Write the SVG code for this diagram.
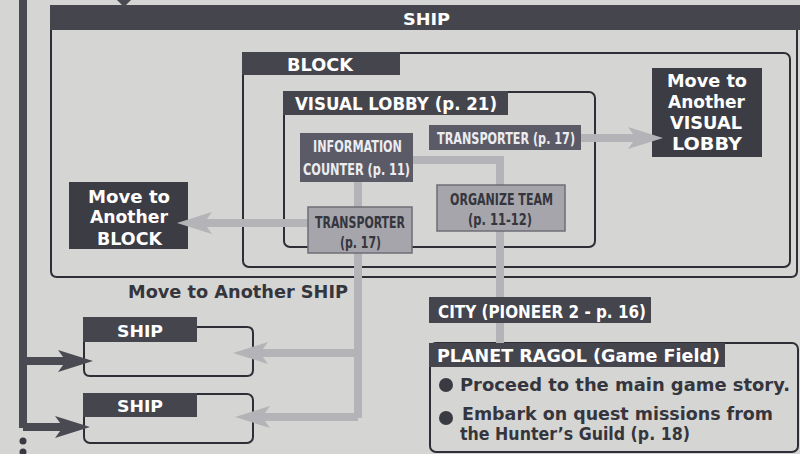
<svg xmlns="http://www.w3.org/2000/svg" width="800" height="454" viewBox="0 0 800 454" xmlns:xlink="http://www.w3.org/1999/xlink">
<defs>
<style>
.bg{fill:#d5d5d3}
.frame{fill:none;stroke:#2e2e36;stroke-width:2}
.hdr{fill:#45454d}
.mv{fill:#3c3c44}
.med{fill:#5b5b67}
.lt{fill:#a5a5ab;stroke:#6e6e76;stroke-width:1.5}
.conn{fill:none;stroke:#b3b3b8;stroke-width:8}
.connd{fill:none;stroke:#4a4a52;stroke-width:8}
.ahl{fill:#b3b3b8}
.ahd{fill:#4a4a52}
.tb{font-family:"DejaVu Sans","Liberation Sans",sans-serif;font-weight:bold;fill:#ffffff}
.tc{font-family:"DejaVu Sans Condensed","DejaVu Sans","Liberation Sans",sans-serif;font-stretch:condensed;font-weight:bold}
.w{fill:#ffffff}
.lw{fill:#ececf0}
.dk{fill:#35353d}
</style>
<path id="ah" d="M0,0 L-35,-11 L-27,0 L-35,11 Z"/>
</defs>
<rect class="bg" x="0" y="0" width="800" height="454"/>

<g id="ship-main">
<path class="frame" d="M51,20 V271 Q51,277 57,277 H791 Q797,277 797,271 V20"/>
<rect class="hdr" x="50" y="5" width="750" height="25"/>
<text class="tb" x="403" y="25" font-size="16" textLength="47" lengthAdjust="spacingAndGlyphs">SHIP</text>
</g>

<g id="block">
<rect class="frame" x="243" y="53" width="547" height="214" rx="6"/>
<rect class="hdr" x="242" y="52" width="158" height="23"/>
<text class="tb" x="287" y="71" font-size="18" textLength="66" lengthAdjust="spacingAndGlyphs">BLOCK</text>
</g>

<g id="visual-lobby">
<rect class="frame" x="284" y="92" width="311" height="155" rx="6"/>
<rect class="hdr" x="283" y="91" width="225" height="24"/>
<text class="tb" x="295" y="110" font-size="18" textLength="202" lengthAdjust="spacingAndGlyphs">VISUAL LOBBY (p. 21)</text>
</g>

<g id="ship-1">
<path class="frame" d="M196,327 H247 Q253,327 253,333 V370 Q253,376 247,376 H90 Q84,376 84,370 V340"/>
<rect class="hdr" x="83" y="317" width="114" height="25"/>
<text class="tb" x="117" y="337" font-size="16" textLength="46" lengthAdjust="spacingAndGlyphs">SHIP</text>
</g>

<g id="ship-2">
<rect class="frame" x="84" y="394" width="169" height="49" rx="6"/>
<rect class="hdr" x="83" y="393" width="114" height="24"/>
<text class="tb" x="117" y="412" font-size="16" textLength="46" lengthAdjust="spacingAndGlyphs">SHIP</text>
</g>

<g id="planet-ragol">
<rect class="frame" x="430" y="343" width="368" height="109" rx="6"/>
<rect class="hdr" x="429" y="343" width="296" height="24"/>
<text class="tb" x="437" y="362" font-size="17" textLength="283" lengthAdjust="spacingAndGlyphs">PLANET RAGOL (Game Field)</text>
<circle cx="446" cy="385" r="7" fill="#3a3a42"/>
<circle cx="446" cy="418" r="7" fill="#3a3a42"/>
<text class="tb dk" x="460" y="391" font-size="18" textLength="330" lengthAdjust="spacingAndGlyphs">Proceed to the main game story.</text>
<text class="tb dk" x="462" y="420" font-size="18" textLength="311" lengthAdjust="spacingAndGlyphs">Embark on quest missions from</text>
<text class="tb dk" x="460" y="440" font-size="18" textLength="230" lengthAdjust="spacingAndGlyphs">the Hunter’s Guild (p. 18)</text>
</g>

<g id="connectors">
<path class="connd" d="M23,0 V428"/>
<path class="connd" d="M23,361 H70"/>
<path class="connd" d="M23,427 H68"/>
<use xlink:href="#ah" class="ahd" transform="translate(93,361)"/>
<use xlink:href="#ah" class="ahd" transform="translate(90,427)"/>
<polygon class="ahd" points="117,0 131,0 124,7"/>
<circle cx="23" cy="441" r="3.5" fill="#3a3a42"/>
<circle cx="23" cy="452" r="3.5" fill="#3a3a42"/>

<path class="conn" d="M358,182 V418"/>
<path class="conn" d="M358,353 H255"/>
<path class="conn" d="M358,417 H255"/>
<use xlink:href="#ah" class="ahl" transform="translate(233,353) rotate(180)"/>
<use xlink:href="#ah" class="ahl" transform="translate(235,417) rotate(180)"/>
<path class="conn" d="M413,160 H500 V343"/>
<path class="conn" d="M308,223 H200"/>
<path class="conn" d="M580,138 H640"/>
</g>

<g id="move-visual-lobby">
<rect class="mv" x="652" y="68" width="110" height="89"/>
<text class="tb" x="667" y="87" font-size="18" textLength="80" lengthAdjust="spacingAndGlyphs">Move to</text>
<text class="tb" x="668" y="108" font-size="18" textLength="77" lengthAdjust="spacingAndGlyphs">Another</text>
<text class="tb" x="670" y="129" font-size="18" textLength="72" lengthAdjust="spacingAndGlyphs">VISUAL</text>
<text class="tb" x="672" y="150" font-size="18" textLength="70" lengthAdjust="spacingAndGlyphs">LOBBY</text>
</g>

<g id="move-block">
<rect class="mv" x="69" y="182" width="119" height="67"/>
<text class="tb" x="88" y="203" font-size="18" textLength="82" lengthAdjust="spacingAndGlyphs">Move to</text>
<text class="tb" x="90" y="223" font-size="18" textLength="78" lengthAdjust="spacingAndGlyphs">Another</text>
<text class="tb" x="97" y="245" font-size="18" textLength="65" lengthAdjust="spacingAndGlyphs">BLOCK</text>
</g>

<g id="arrowheads-over">
<use xlink:href="#ah" class="ahl" transform="translate(663,138)"/>
<use xlink:href="#ah" class="ahl" transform="translate(177,223) rotate(180)"/>
</g>

<g id="move-ship-label">
<text class="tb dk" x="128" y="298" font-size="18" textLength="220" lengthAdjust="spacingAndGlyphs">Move to Another SHIP</text>
</g>

<g id="info-counter">
<rect class="med" x="300" y="133" width="113" height="49"/>
<text class="tc lw" x="313" y="152" font-size="16" textLength="89" lengthAdjust="spacingAndGlyphs">INFORMATION</text>
<text class="tc lw" x="303" y="175" font-size="16" textLength="107" lengthAdjust="spacingAndGlyphs">COUNTER (p. 11)</text>
</g>

<g id="transporter-top">
<rect class="med" x="429" y="125" width="152" height="25"/>
<text class="tc lw" x="437" y="144" font-size="16" textLength="138" lengthAdjust="spacingAndGlyphs">TRANSPORTER (p. 17)</text>
</g>

<g id="organize-team">
<rect class="lt" x="437" y="185" width="128" height="46"/>
<text class="tc dk" x="450" y="205" font-size="16" textLength="103" lengthAdjust="spacingAndGlyphs">ORGANIZE TEAM</text>
<text class="tc dk" x="468" y="225" font-size="16" textLength="64" lengthAdjust="spacingAndGlyphs">(p. 11-12)</text>
</g>

<g id="transporter-low">
<rect class="lt" x="308" y="207" width="104" height="46"/>
<text class="tc dk" x="315" y="228" font-size="16" textLength="90" lengthAdjust="spacingAndGlyphs">TRANSPORTER</text>
<text class="tc dk" x="340" y="248" font-size="16" textLength="41" lengthAdjust="spacingAndGlyphs">(p. 17)</text>
</g>

<g id="city">
<rect class="hdr" x="429" y="297" width="222" height="26"/>
<text class="tc w" x="438" y="318" font-size="17" textLength="208" lengthAdjust="spacingAndGlyphs">CITY (PIONEER 2 - p. 16)</text>
</g>
</svg>
